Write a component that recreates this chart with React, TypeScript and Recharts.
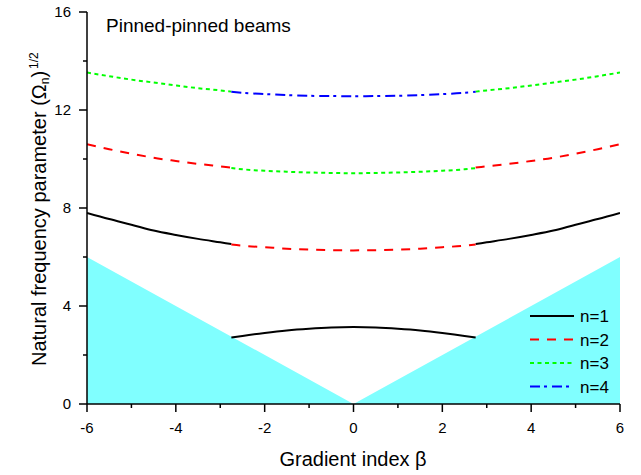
import React from 'react';
import { ComposedChart, Line, Area, XAxis, YAxis, Customized } from 'recharts';

// ---- Data ----
const triangleBeta = [-6, 0, 6];
const triangleLimit = [6, 0, 6];

const betaMid = [-2.75, -2.5, -2, -1.5, -1, -0.5, 0, 0.5, 1, 1.5, 2, 2.5, 2.75];
const betaLeft = [-6, -5.5, -5, -4.5, -4, -3.5, -3, -2.75];
const betaRight = [2.75, 3, 3.5, 4, 4.5, 5, 5.5, 6];

// n=1 segments
const n1Mid = [2.71, 2.78, 2.9, 3.0, 3.07, 3.12, 3.14, 3.12, 3.07, 3.0, 2.9, 2.78, 2.71];
const n1Left = [7.8, 7.55, 7.32, 7.08, 6.9, 6.74, 6.6, 6.53];
const n1Right = [6.53, 6.6, 6.74, 6.9, 7.08, 7.32, 7.55, 7.8];
// n=2 segments
const n2Mid = [6.51, 6.46, 6.4, 6.34, 6.3, 6.28, 6.27, 6.28, 6.3, 6.34, 6.4, 6.46, 6.51];
const n2Left = [10.6, 10.4, 10.22, 10.05, 9.92, 9.8, 9.7, 9.65];
const n2Right = [9.65, 9.7, 9.8, 9.92, 10.05, 10.22, 10.4, 10.6];
// n=3 segments
const n3Mid = [9.63, 9.58, 9.52, 9.48, 9.45, 9.43, 9.42, 9.43, 9.45, 9.48, 9.52, 9.58, 9.63];
const n3Left = [13.53, 13.38, 13.24, 13.12, 13.0, 12.89, 12.8, 12.75];
const n3Right = [12.75, 12.8, 12.89, 13.0, 13.12, 13.24, 13.38, 13.53];
// n=4 segment
const n4Mid = [12.74, 12.7, 12.65, 12.61, 12.58, 12.57, 12.56, 12.57, 12.58, 12.61, 12.65, 12.7, 12.74];

const xTicks = [-6, -5, -4, -3, -2, -1, 0, 1, 2, 3, 4, 5, 6];
const yTicks = [0, 2, 4, 6, 8, 10, 12, 14, 16];

const legendLabels = ['n=1', 'n=2', 'n=3', 'n=4'];
const titleText = 'Pinned-pinned beams';
const xLabelText = 'Gradient index \u03B2';

// ---- Helpers ----
const zip = (xs: number[], ys: number[]) => xs.map((x, i) => ({ x, y: ys[i] }));

const FONT = 'Liberation Sans, Arial, Helvetica, sans-serif';

const STYLES = [
  { stroke: '#000000', dash: undefined as string | undefined },
  { stroke: '#FF0000', dash: '9 8' },
  { stroke: '#00FF00', dash: '4 3.5' },
  { stroke: '#0000FF', dash: '10 4 3 5' },
];

const XTick = (props: any) => {
  const { x, y, payload } = props;
  const v = payload.value;
  const major = v % 2 === 0;
  return (
    <g>
      <line x1={x} y1={y} x2={x} y2={y + (major ? 8 : 4)} stroke="#000" strokeWidth={1.5} />
      {major && (
        <text x={x} y={y + 29} textAnchor="middle" fontSize={15} fontFamily={FONT} fill="#000">
          {String(v)}
        </text>
      )}
    </g>
  );
};

const YTick = (props: any) => {
  const { x, y, payload } = props;
  const v = payload.value;
  const major = v % 4 === 0;
  return (
    <g>
      <line x1={x} y1={y} x2={x - (major ? 8 : 4)} y2={y} stroke="#000" strokeWidth={1.5} />
      {major && (
        <text x={x - 16} y={y + 5} textAnchor="end" fontSize={15} fontFamily={FONT} fill="#000">
          {String(v)}
        </text>
      )}
    </g>
  );
};

const Decorations = () => (
  <g>
    <text x={106} y={32} fontSize={19} fontFamily={FONT} fill="#000">
      {titleText}
    </text>
    <text x={353} y={466} textAnchor="middle" fontSize={20} fontFamily={FONT} fill="#000">
      {xLabelText}
    </text>
    <text transform="translate(46,366) rotate(-90)" fontSize={20} fontFamily={FONT} fill="#000">
      Natural frequency parameter (Ω
      <tspan fontSize={12} dy={3}>n</tspan>
      <tspan fontSize={20} dy={-3}>)</tspan>
      <tspan fontSize={12} dy={-8} dx={2}>1/2</tspan>
    </text>
  </g>
);

const LegendOverlay = () => (
  <svg
    width={641}
    height={475}
    style={{ position: 'absolute', left: 0, top: 0, pointerEvents: 'none' }}
  >
    {legendLabels.map((lab, i) => {
      const yy = 316 + i * 23.5;
      const s = STYLES[i];
      return (
        <g key={lab}>
          <line x1={530} y1={yy} x2={574} y2={yy} stroke={s.stroke} strokeWidth={2} strokeDasharray={s.dash} />
          <text x={580} y={yy + 6} fontSize={17} fontFamily={FONT} fill="#000">
            {lab}
          </text>
        </g>
      );
    })}
  </svg>
);

const segments: { data: { x: number; y: number }[]; style: number; key: string }[] = [
  { data: zip(betaMid, n1Mid), style: 0, key: 'n1m' },
  { data: zip(betaLeft, n1Left), style: 0, key: 'n1l' },
  { data: zip(betaRight, n1Right), style: 0, key: 'n1r' },
  { data: zip(betaMid, n2Mid), style: 1, key: 'n2m' },
  { data: zip(betaLeft, n2Left), style: 1, key: 'n2l' },
  { data: zip(betaRight, n2Right), style: 1, key: 'n2r' },
  { data: zip(betaMid, n3Mid), style: 2, key: 'n3m' },
  { data: zip(betaLeft, n3Left), style: 2, key: 'n3l' },
  { data: zip(betaRight, n3Right), style: 2, key: 'n3r' },
  { data: zip(betaMid, n4Mid), style: 3, key: 'n4m' },
];

export default function App() {
  const areaData = zip(triangleBeta, triangleLimit);
  return (
    <div style={{ position: 'absolute', left: 0, top: 0, width: 641, height: 475, background: '#fff' }}>
      <ComposedChart
        width={641}
        height={475}
        data={areaData}
        margin={{ top: 12, right: 21, bottom: 0, left: 0 }}
      >
        <XAxis
          dataKey="x"
          type="number"
          domain={[-6, 6]}
          ticks={xTicks}
          interval={0}
          allowDataOverflow
          height={71}
          tickSize={0}
          tickMargin={0}
          tickLine={false}
          tick={<XTick />}
          axisLine={{ stroke: '#000', strokeWidth: 1.5 }}
        />
        <YAxis
          type="number"
          domain={[0, 16]}
          ticks={yTicks}
          interval={0}
          allowDataOverflow
          width={87}
          tickSize={0}
          tickMargin={0}
          tickLine={false}
          tick={<YTick />}
          axisLine={{ stroke: '#000', strokeWidth: 1.5 }}
        />
        <Area
          type="linear"
          dataKey="y"
          fill="#80FFFF"
          fillOpacity={1}
          stroke="none"
          isAnimationActive={false}
        />
        {segments.map((s) => (
          <Line
            key={s.key}
            data={s.data}
            dataKey="y"
            type="monotone"
            stroke={STYLES[s.style].stroke}
            strokeWidth={2}
            strokeDasharray={STYLES[s.style].dash}
            dot={false}
            activeDot={false}
            isAnimationActive={false}
          />
        ))}
        <Customized component={Decorations} />
      </ComposedChart>
      <LegendOverlay />
    </div>
  );
}
